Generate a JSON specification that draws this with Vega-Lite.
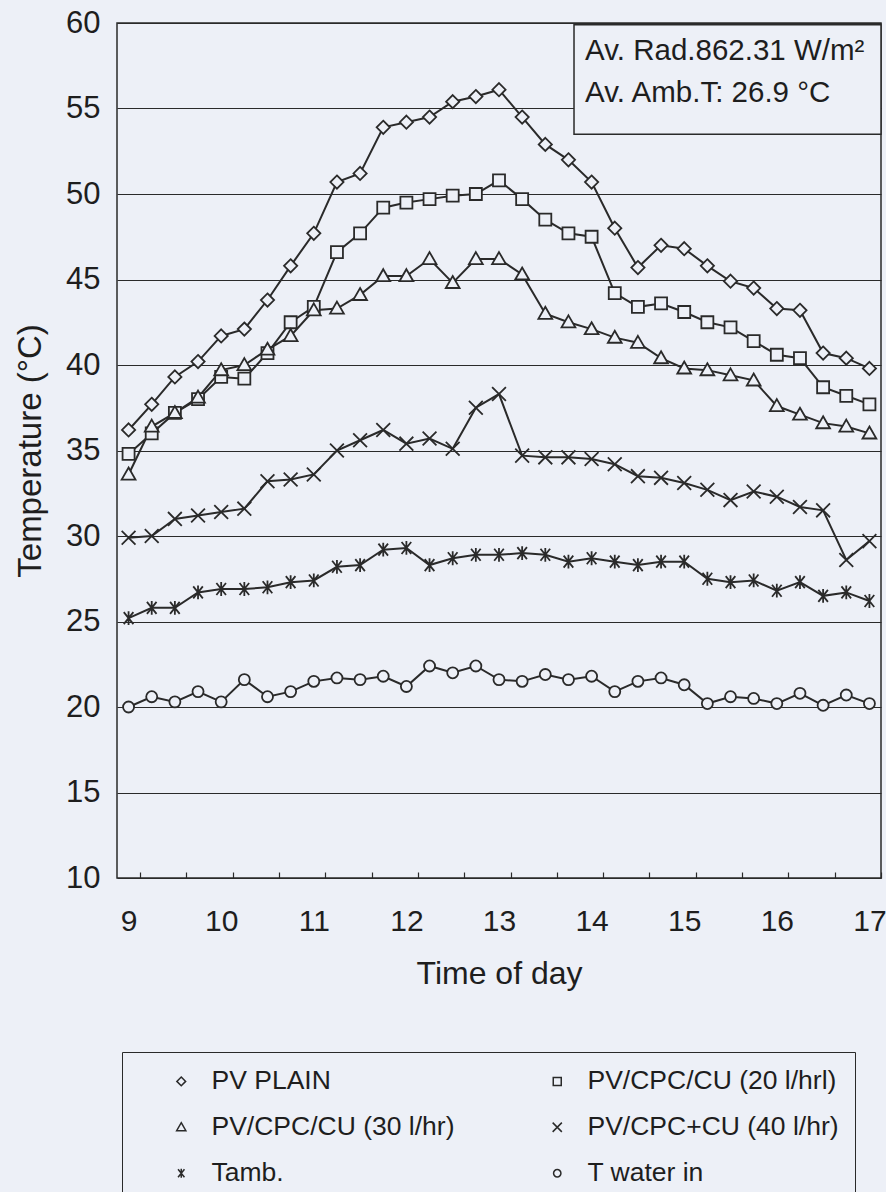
{
  "$schema": "https://vega.github.io/schema/vega-lite/v6.json",
  "width": 764,
  "height": 855,
  "autosize": "none",
  "padding": {"left": 117, "top": 23, "right": 5, "bottom": 314},
  "background": "#edf0f7",
  "config": {
    "view": {"stroke": "#2a2a2a", "strokeWidth": 1.5, "fill": "#edf0f7"},
    "font": "Liberation Sans"
  },
  "datasets": {
    "temps": [
      {"h": 9, "pv": 36.2, "cu20": 34.8, "cu30": 33.6, "cu40": 29.9, "tamb": 25.2, "tw": 20.0},
      {"h": 9.25, "pv": 37.7, "cu20": 36.0, "cu30": 36.4, "cu40": 30.0, "tamb": 25.8, "tw": 20.6},
      {"h": 9.5, "pv": 39.3, "cu20": 37.2, "cu30": 37.2, "cu40": 31.0, "tamb": 25.8, "tw": 20.3},
      {"h": 9.75, "pv": 40.2, "cu20": 38.0, "cu30": 38.1, "cu40": 31.2, "tamb": 26.7, "tw": 20.9},
      {"h": 10, "pv": 41.7, "cu20": 39.3, "cu30": 39.7, "cu40": 31.4, "tamb": 26.9, "tw": 20.3},
      {"h": 10.25, "pv": 42.1, "cu20": 39.2, "cu30": 40.0, "cu40": 31.6, "tamb": 26.9, "tw": 21.6},
      {"h": 10.5, "pv": 43.8, "cu20": 40.7, "cu30": 40.9, "cu40": 33.2, "tamb": 27.0, "tw": 20.6},
      {"h": 10.75, "pv": 45.8, "cu20": 42.5, "cu30": 41.7, "cu40": 33.3, "tamb": 27.3, "tw": 20.9},
      {"h": 11, "pv": 47.7, "cu20": 43.4, "cu30": 43.2, "cu40": 33.6, "tamb": 27.4, "tw": 21.5},
      {"h": 11.25, "pv": 50.7, "cu20": 46.6, "cu30": 43.3, "cu40": 35.0, "tamb": 28.2, "tw": 21.7},
      {"h": 11.5, "pv": 51.2, "cu20": 47.7, "cu30": 44.1, "cu40": 35.6, "tamb": 28.3, "tw": 21.6},
      {"h": 11.75, "pv": 53.9, "cu20": 49.2, "cu30": 45.2, "cu40": 36.2, "tamb": 29.2, "tw": 21.8},
      {"h": 12, "pv": 54.2, "cu20": 49.5, "cu30": 45.2, "cu40": 35.4, "tamb": 29.3, "tw": 21.2},
      {"h": 12.25, "pv": 54.5, "cu20": 49.7, "cu30": 46.2, "cu40": 35.7, "tamb": 28.3, "tw": 22.4},
      {"h": 12.5, "pv": 55.4, "cu20": 49.9, "cu30": 44.8, "cu40": 35.1, "tamb": 28.7, "tw": 22.0},
      {"h": 12.75, "pv": 55.7, "cu20": 50.0, "cu30": 46.2, "cu40": 37.5, "tamb": 28.9, "tw": 22.4},
      {"h": 13, "pv": 56.1, "cu20": 50.8, "cu30": 46.2, "cu40": 38.3, "tamb": 28.9, "tw": 21.6},
      {"h": 13.25, "pv": 54.5, "cu20": 49.7, "cu30": 45.3, "cu40": 34.7, "tamb": 29.0, "tw": 21.5},
      {"h": 13.5, "pv": 52.9, "cu20": 48.5, "cu30": 43.0, "cu40": 34.6, "tamb": 28.9, "tw": 21.9},
      {"h": 13.75, "pv": 52.0, "cu20": 47.7, "cu30": 42.5, "cu40": 34.6, "tamb": 28.5, "tw": 21.6},
      {"h": 14, "pv": 50.7, "cu20": 47.5, "cu30": 42.1, "cu40": 34.5, "tamb": 28.7, "tw": 21.8},
      {"h": 14.25, "pv": 48.0, "cu20": 44.2, "cu30": 41.6, "cu40": 34.2, "tamb": 28.5, "tw": 20.9},
      {"h": 14.5, "pv": 45.7, "cu20": 43.4, "cu30": 41.3, "cu40": 33.5, "tamb": 28.3, "tw": 21.5},
      {"h": 14.75, "pv": 47.0, "cu20": 43.6, "cu30": 40.4, "cu40": 33.4, "tamb": 28.5, "tw": 21.7},
      {"h": 15, "pv": 46.8, "cu20": 43.1, "cu30": 39.8, "cu40": 33.1, "tamb": 28.5, "tw": 21.3},
      {"h": 15.25, "pv": 45.8, "cu20": 42.5, "cu30": 39.7, "cu40": 32.7, "tamb": 27.5, "tw": 20.2},
      {"h": 15.5, "pv": 44.9, "cu20": 42.2, "cu30": 39.4, "cu40": 32.1, "tamb": 27.3, "tw": 20.6},
      {"h": 15.75, "pv": 44.5, "cu20": 41.4, "cu30": 39.1, "cu40": 32.6, "tamb": 27.4, "tw": 20.5},
      {"h": 16, "pv": 43.3, "cu20": 40.6, "cu30": 37.6, "cu40": 32.3, "tamb": 26.8, "tw": 20.2},
      {"h": 16.25, "pv": 43.2, "cu20": 40.4, "cu30": 37.1, "cu40": 31.7, "tamb": 27.3, "tw": 20.8},
      {"h": 16.5, "pv": 40.7, "cu20": 38.7, "cu30": 36.6, "cu40": 31.5, "tamb": 26.5, "tw": 20.1},
      {"h": 16.75, "pv": 40.4, "cu20": 38.2, "cu30": 36.4, "cu40": 28.6, "tamb": 26.7, "tw": 20.7},
      {"h": 17, "pv": 39.8, "cu20": 37.7, "cu30": 36.0, "cu40": 29.7, "tamb": 26.2, "tw": 20.2}
    ]
  },
  "layer": [
    {
      "data": {"name": "temps"},
      "transform": [{"fold": ["pv", "cu20", "cu30", "cu40", "tamb", "tw"], "as": ["series", "temp"]}],
      "layer": [
        {
          "mark": {"type": "line", "color": "#2a2a2a", "strokeWidth": 2},
          "encoding": {
            "x": {
              "field": "h", "type": "quantitative",
              "scale": {"domain": [8.875, 17.125], "nice": false, "zero": false},
              "axis": {
                "title": "Time of day",
                "values": [9, 9.25, 9.5, 9.75, 10, 10.25, 10.5, 10.75, 11, 11.25, 11.5, 11.75, 12, 12.25, 12.5, 12.75, 13, 13.25, 13.5, 13.75, 14, 14.25, 14.5, 14.75, 15, 15.25, 15.5, 15.75, 16, 16.25, 16.5, 16.75, 17],
                "labelExpr": "datum.value % 1 === 0 ? '' + datum.value : ''",
                "tickOffset": 11.576,
                "labelOffset": -11.576,
                "tickSize": -6,
                "tickColor": "#2a2a2a",
                "tickWidth": 1.2,
                "domain": false,
                "grid": false,
                "labelFlush": false,
                "labelOverlap": false,
                "labelBound": false,
                "labelFontSize": 30,
                "labelColor": "#1e1e1e",
                "labelPadding": 34,
                "titleFontSize": 32,
                "titleFontWeight": "normal",
                "titleColor": "#1e1e1e",
                "titlePadding": 22
              }
            },
            "y": {
              "field": "temp", "type": "quantitative",
              "scale": {"domain": [10, 60], "nice": false, "zero": false},
              "axis": {
                "title": "Temperature (°C)",
                "values": [10, 15, 20, 25, 30, 35, 40, 45, 50, 55, 60],
                "grid": true,
                "gridColor": "#2a2a2a",
                "gridWidth": 1.2,
                "gridOpacity": 1,
                "ticks": false,
                "domain": false,
                "labelFlush": false,
                "labelOverlap": false,
                "labelFontSize": 31,
                "labelColor": "#1e1e1e",
                "labelPadding": 17,
                "titleFontSize": 33,
                "titleFontWeight": "normal",
                "titleColor": "#1e1e1e",
                "titlePadding": 18
              }
            },
            "detail": {"field": "series", "type": "nominal"}
          }
        },
        {
          "mark": {"type": "point", "filled": true, "fill": "#edf0f7", "stroke": "#2a2a2a", "strokeWidth": 1.8, "opacity": 1, "size": 144},
          "encoding": {
            "x": {"field": "h", "type": "quantitative"},
            "y": {"field": "temp", "type": "quantitative"},
            "shape": {
              "field": "series", "type": "nominal",
              "scale": {
                "domain": ["pv", "cu20", "cu30", "cu40", "tamb", "tw"],
                "range": ["M0,-1.1L1.1,0L0,1.1L-1.1,0Z", "M-1,-1H1V1H-1Z", "M0,-1.15L1.15,0.85H-1.15Z", "M-1.15,-1.15L1.15,1.15M-1.15,1.15L1.15,-1.15", "M-0.8,-1L0.8,1M-0.8,1L0.8,-1M0,-1.15V1.15", "M0.92,0A0.92,0.92,0,1,1,-0.92,0A0.92,0.92,0,1,1,0.92,0Z"]
              },
              "legend": {
                "title": null,
                "orient": "none",
                "legendX": 5,
                "legendY": 1029,
                "direction": "horizontal",
                "columns": 2,
                "columnPadding": 59,
                "rowPadding": 19,
                "padding": 16,
                "strokeColor": "#2a2a2a",
                "fillColor": "#edf0f7",
                "labelFontSize": 26.5,
                "labelFont": "Liberation Sans",
                "labelColor": "#1e1e1e",
                "labelLimit": 400,
                "symbolOffset": 30,
                "labelOffset": 17,
                "symbolSize": 64,
                "labelExpr": "datum.value === 'pv' ? 'PV PLAIN' : datum.value === 'cu20' ? 'PV/CPC/CU (20 l/hrl)' : datum.value === 'cu30' ? 'PV/CPC/CU (30 l/hr)' : datum.value === 'cu40' ? 'PV/CPC+CU (40 l/hr)' : datum.value === 'tamb' ? 'Tamb.' : 'T water in'"
              }
            }
          }
        }
      ]
    },
    {
      "data": {"values": [{"box": "note"}]},
      "mark": {"type": "rect", "fill": "#edf0f7", "stroke": "#2a2a2a", "strokeWidth": 1.5},
      "encoding": {
        "x": {"datum": 13.81, "type": "quantitative"},
        "x2": {"datum": 17.125},
        "y": {"datum": 59.9, "type": "quantitative"},
        "y2": {"datum": 53.5}
      }
    },
    {
      "data": {"values": [{"note": "Av. Rad.862.31 W/m²"}]},
      "mark": {"type": "text", "align": "left", "baseline": "alphabetic", "fontSize": 29.5, "font": "Liberation Sans", "color": "#1e1e1e"},
      "encoding": {
        "x": {"datum": 13.93, "type": "quantitative"},
        "y": {"datum": 57.85, "type": "quantitative"},
        "text": {"field": "note", "type": "nominal"}
      }
    },
    {
      "data": {"values": [{"note": "Av. Amb.T: 26.9 °C"}]},
      "mark": {"type": "text", "align": "left", "baseline": "alphabetic", "fontSize": 29.5, "font": "Liberation Sans", "color": "#1e1e1e"},
      "encoding": {
        "x": {"datum": 13.93, "type": "quantitative"},
        "y": {"datum": 55.4, "type": "quantitative"},
        "text": {"field": "note", "type": "nominal"}
      }
    }
  ]
}
